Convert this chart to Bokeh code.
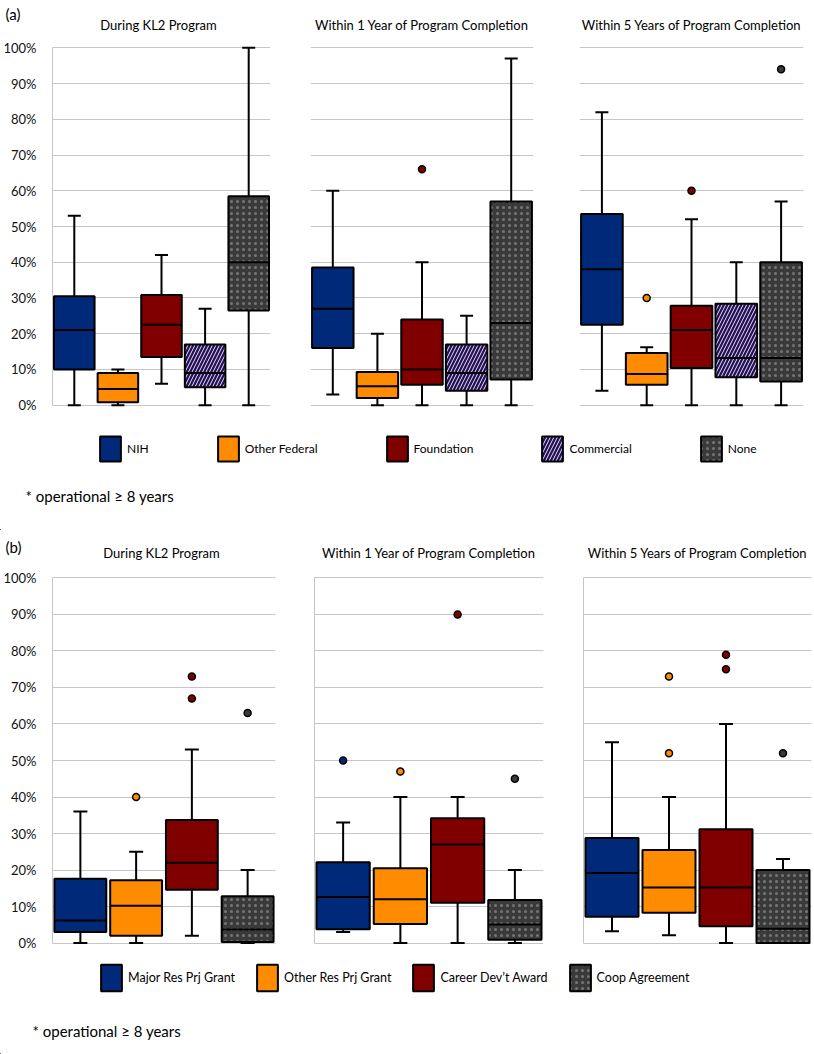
from bokeh.plotting import figure
from bokeh.layouts import column, row
from bokeh.models import (FactorRange, Range1d, FixedTicker, PrintfTickFormatter,
                          Legend, LegendItem, Label, ColumnDataSource)
from bokeh.transform import dodge
from bokeh.embed import file_html
from bokeh.resources import INLINE

FONT = "Lato"

facet_titles = ["During KL2 Program",
                "Within 1 Year of Program Completion",
                "Within 5 Years of Program Completion"]
y_ticks = [0, 10, 20, 30, 40, 50, 60, 70, 80, 90, 100]

# ---------------- Panel (a) data (percent) ----------------
a_categories = ["NIH", "Other Federal", "Foundation", "Commercial", "None"]

a_during_low = [0, 0, 6, 0, 0]
a_during_q1 = [10, 0.8, 13.5, 5, 26.5]
a_during_med = [21, 4.5, 22.5, 9, 40]
a_during_q3 = [30.5, 9, 30.8, 17, 58.5]
a_during_high = [53, 10, 42, 27, 100]
a_during_out_cat = []
a_during_out_val = []

a_1yr_low = [3, 0, 0, 0, 0]
a_1yr_q1 = [16, 2, 5.7, 4, 7.2]
a_1yr_med = [27, 5.3, 10, 9, 23]
a_1yr_q3 = [38.5, 9.3, 24, 17, 57]
a_1yr_high = [60, 20, 40, 25, 97]
a_1yr_out_cat = ["Foundation"]
a_1yr_out_val = [66]

a_5yr_low = [4, 0, 0, 0, 0]
a_5yr_q1 = [22.5, 5.7, 10.4, 7.8, 6.6]
a_5yr_med = [38, 8.7, 21, 13.2, 13.2]
a_5yr_q3 = [53.5, 14.6, 27.8, 28.4, 40]
a_5yr_high = [82, 16.2, 52, 40, 57]
a_5yr_out_cat = ["Other Federal", "Foundation", "None"]
a_5yr_out_val = [30, 60, 94]

# ---------------- Panel (b) data (percent) ----------------
b_categories = ["Major Res Prj Grant", "Other Res Prj Grant",
                "Career Dev\u2019t Award", "Coop Agreement"]

b_during_low = [0, 0, 2, 0]
b_during_q1 = [3, 2, 14.6, 0.3]
b_during_med = [6.2, 10.2, 22, 3.7]
b_during_q3 = [17.6, 17.2, 33.7, 12.8]
b_during_high = [36, 25, 53, 20]
b_during_out_cat = ["Other Res Prj Grant", "Career Dev\u2019t Award",
                    "Career Dev\u2019t Award", "Coop Agreement"]
b_during_out_val = [40, 73, 67, 63]

b_1yr_low = [3, 0, 0, 0]
b_1yr_q1 = [3.8, 5.2, 11, 0.9]
b_1yr_med = [12.6, 12, 27, 5.1]
b_1yr_q3 = [22.1, 20.5, 34.2, 11.8]
b_1yr_high = [33, 40, 40, 20]
b_1yr_out_cat = ["Major Res Prj Grant", "Other Res Prj Grant",
                 "Career Dev\u2019t Award", "Coop Agreement"]
b_1yr_out_val = [50, 47, 90, 45]

b_5yr_low = [3.2, 2.1, 0, 0]
b_5yr_q1 = [7.2, 8.3, 4.6, 0]
b_5yr_med = [19.2, 15.2, 15.2, 3.9]
b_5yr_q3 = [28.8, 25.5, 31.2, 20]
b_5yr_high = [55, 40, 60, 23]
b_5yr_out_cat = ["Other Res Prj Grant", "Other Res Prj Grant",
                 "Career Dev\u2019t Award", "Career Dev\u2019t Award",
                 "Coop Agreement"]
b_5yr_out_val = [73, 52, 79, 75, 52]

# ---------------- styles ----------------
a_fill = ["#00297A", "#FF8C00", "#800000", "#22104F", "#3A3A3A"]
a_hatch = [" ", " ", " ", "right_diagonal_line", "dot"]
a_hatch_color = ["white", "white", "white", "#E6DDFF", "#767676"]
a_hatch_scale = [6, 6, 6, 7, 6]
a_hatch_weight = [1, 1, 1, 1.0, 0.8]

b_fill = ["#00297A", "#FF8C00", "#800000", "#3A3A3A"]
b_hatch = [" ", " ", " ", "dot"]
b_hatch_color = ["white", "white", "white", "#767676"]
b_hatch_scale = [6, 6, 6, 6]
b_hatch_weight = [1, 1, 1, 0.8]

GRID = "#C6C6C6"
BOX_W = 0.93
PAGE_W = 814


def text_label(p, x, y, text, size, align="left"):
    p.add_layout(Label(x=x, y=y, x_units="screen", y_units="screen",
                       text=text, text_font=FONT, text_font_size=size,
                       text_baseline="middle", text_align=align,
                       text_color="#000000"))


def make_header(height, tag, tag_xy, title_x, title_y):
    p = figure(width=PAGE_W, height=height, x_range=Range1d(0, 1),
               y_range=Range1d(0, 1), x_axis_location=None,
               y_axis_location=None, toolbar_location=None,
               output_backend="svg", min_border=0)
    p.outline_line_color = None
    p.xgrid.visible = False
    p.ygrid.visible = False
    text_label(p, tag_xy[0], tag_xy[1], tag, "15px")
    for t, x in zip(facet_titles, title_x):
        text_label(p, x, title_y, t, "13px", align="center")
    return p


def make_facet(cats, low, q1, med, q3, high, out_cat, out_val,
               fills, hatch, hcol, hscale, hweight,
               width, height, left, right, top, bottom,
               show_labels, axis_line, cap):
    p = figure(width=width, height=height,
               x_range=FactorRange(*cats),
               y_range=Range1d(-1.5, 101.5),
               x_axis_location=None, y_axis_location="left",
               toolbar_location=None, output_backend="svg",
               min_border_left=left, min_border_right=right,
               min_border_top=top, min_border_bottom=bottom)
    p.outline_line_color = None
    p.background_fill_color = "white"
    p.xgrid.visible = False

    ax = p.yaxis[0]
    ax.major_tick_line_color = None
    ax.minor_tick_line_color = None
    ax.bounds = (0, 100)
    ax.axis_line_color = axis_line
    ax.axis_line_width = 1
    if show_labels:
        ax.ticker = FixedTicker(ticks=y_ticks)
        ax.formatter = PrintfTickFormatter(format="%d%%")
        ax.major_label_text_font = FONT
        ax.major_label_text_font_size = "13px"
        ax.major_label_text_color = "#111111"
        ax.major_label_standoff = 10
    else:
        ax.ticker = FixedTicker(ticks=[])
        ax.major_label_standoff = 0
    p.ygrid.ticker = FixedTicker(ticks=y_ticks)
    p.ygrid.grid_line_color = GRID
    p.ygrid.grid_line_width = 1

    src = ColumnDataSource(dict(cat=cats, low=low, q1=q1, med=med, q3=q3,
                                high=high, fill=fills, hatch=hatch,
                                hcol=hcol, hscale=hscale, hweight=hweight))
    # whiskers
    p.segment(x0="cat", y0="low", x1="cat", y1="high", source=src,
              line_color="black", line_width=2)
    p.scatter(x="cat", y="high", source=src, marker="dash", size=cap,
              line_color="black", line_width=2)
    p.scatter(x="cat", y="low", source=src, marker="dash", size=cap,
              line_color="black", line_width=2)
    # boxes
    p.vbar(x="cat", top="q3", bottom="q1", width=BOX_W, source=src,
           fill_color="fill", line_color="black", line_width=2,
           hatch_pattern="hatch", hatch_color="hcol",
           hatch_scale="hscale", hatch_weight="hweight")
    # medians
    p.segment(x0=dodge("cat", -BOX_W / 2, range=p.x_range), y0="med",
              x1=dodge("cat", BOX_W / 2, range=p.x_range), y1="med",
              source=src, line_color="black", line_width=2)
    # outliers
    if out_cat:
        ofill = [fills[cats.index(c)] for c in out_cat]
        osrc = ColumnDataSource(dict(cat=out_cat, val=out_val, fill=ofill))
        p.scatter(x="cat", y="val", source=osrc, marker="circle", size=7,
                  fill_color="fill", line_color="black", line_width=1.5)
    return p


def make_legend(cats, fills, hatch, hcol, hscale, hweight, height,
                loc, spacing, font_size, glyph_h, note, note_xy):
    p = figure(width=PAGE_W, height=height, x_range=Range1d(0, 1),
               y_range=Range1d(0, 1), x_axis_location=None,
               y_axis_location=None, toolbar_location=None,
               output_backend="svg", min_border=0)
    p.outline_line_color = None
    p.xgrid.visible = False
    p.ygrid.visible = False
    items = []
    for i, c in enumerate(cats):
        # legend key renderer; its single box lies outside the visible range
        r = p.vbar(x=[-1], top=[-1], bottom=[-2], width=0.1,
                   fill_color=fills[i], line_color="black", line_width=2,
                   hatch_pattern=hatch[i], hatch_color=hcol[i],
                   hatch_scale=hscale[i], hatch_weight=hweight[i])
        items.append(LegendItem(label=c, renderers=[r]))
    leg = Legend(items=items, orientation="horizontal", location=loc,
                 spacing=spacing, glyph_width=26, glyph_height=glyph_h,
                 label_standoff=4, padding=0, margin=0,
                 border_line_color=None, background_fill_alpha=0,
                 label_text_font=FONT, label_text_font_size=font_size,
                 label_height=glyph_h, label_text_color="#000000")
    p.add_layout(leg)
    text_label(p, note_xy[0], note_xy[1], note, "15px")
    return p


# ---------------- Panel (a) ----------------
head_a = make_header(36, "(a)", (5, 23), [158, 421.5, 691], 12)

A_H, A_TOP, A_BOT = 378, 6, 4
fa1 = make_facet(a_categories, a_during_low, a_during_q1,
                 a_during_med, a_during_q3, a_during_high,
                 a_during_out_cat, a_during_out_val,
                 a_fill, a_hatch, a_hatch_color, a_hatch_scale, a_hatch_weight,
                 290, A_H, 46, 20, A_TOP, A_BOT, True, GRID, 13)
fa2 = make_facet(a_categories, a_1yr_low, a_1yr_q1,
                 a_1yr_med, a_1yr_q3, a_1yr_high,
                 a_1yr_out_cat, a_1yr_out_val,
                 a_fill, a_hatch, a_hatch_color, a_hatch_scale, a_hatch_weight,
                 266, A_H, 20, 23, A_TOP, A_BOT, False, None, 13)
fa3 = make_facet(a_categories, a_5yr_low, a_5yr_q1,
                 a_5yr_med, a_5yr_q3, a_5yr_high,
                 a_5yr_out_cat, a_5yr_out_val,
                 a_fill, a_hatch, a_hatch_color, a_hatch_scale, a_hatch_weight,
                 258, A_H, 23, 11, A_TOP, A_BOT, False, None, 13)

leg_a = make_legend(a_categories, a_fill, a_hatch, a_hatch_color,
                    a_hatch_scale, a_hatch_weight, 116, (97, 66), 66,
                    "12px", 31, "* operational \u2265 8 years", (25, 35))

# ---------------- Panel (b) ----------------
head_b = make_header(36, "(b)", (5, 20), [161, 428.5, 697], 14)

B_H, B_TOP, B_BOT = 384, 6, 2
fb1 = make_facet(b_categories, b_during_low, b_during_q1,
                 b_during_med, b_during_q3, b_during_high,
                 b_during_out_cat, b_during_out_val,
                 b_fill, b_hatch, b_hatch_color, b_hatch_scale, b_hatch_weight,
                 294, B_H, 47, 19, B_TOP, B_BOT, True, GRID, 14)
fb2 = make_facet(b_categories, b_1yr_low, b_1yr_q1,
                 b_1yr_med, b_1yr_q3, b_1yr_high,
                 b_1yr_out_cat, b_1yr_out_val,
                 b_fill, b_hatch, b_hatch_color, b_hatch_scale, b_hatch_weight,
                 269, B_H, 20, 20, B_TOP, B_BOT, False, GRID, 14)
fb3 = make_facet(b_categories, b_5yr_low, b_5yr_q1,
                 b_5yr_med, b_5yr_q3, b_5yr_high,
                 b_5yr_out_cat, b_5yr_out_val,
                 b_fill, b_hatch, b_hatch_color, b_hatch_scale, b_hatch_weight,
                 251, B_H, 20, 3, B_TOP, B_BOT, False, GRID, 14)

leg_b = make_legend(b_categories, b_fill, b_hatch, b_hatch_color,
                    b_hatch_scale, b_hatch_weight, 104, (98, 60), 19,
                    "12.5px", 33, "* operational \u2265 8 years", (32, 24))

layout = column(head_a, row(fa1, fa2, fa3, spacing=0), leg_a,
                head_b, row(fb1, fb2, fb3, spacing=0), leg_b, spacing=0)

open("out.html", "w").write(file_html(layout, INLINE))
